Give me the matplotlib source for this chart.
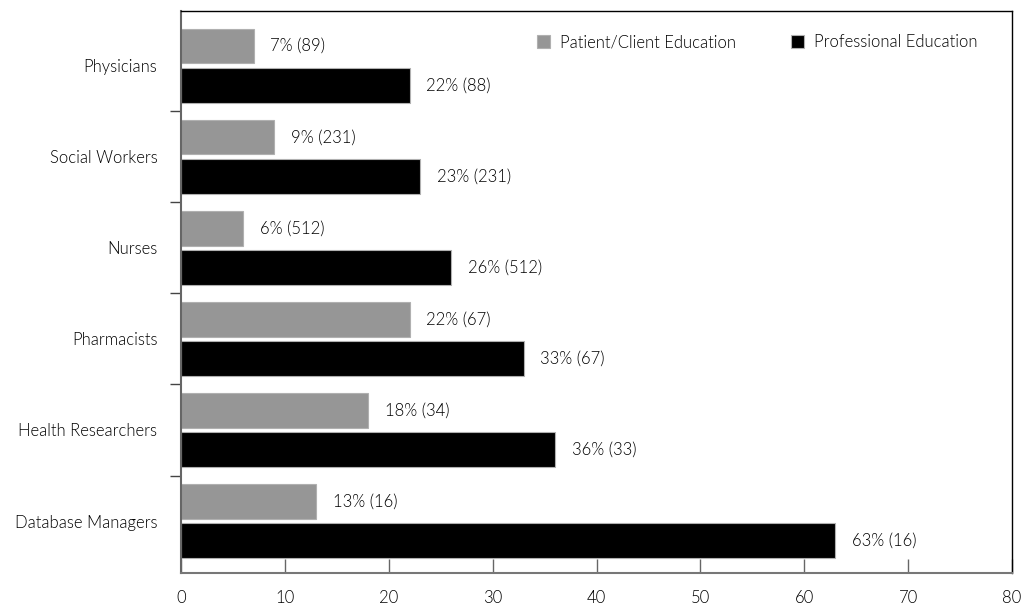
import matplotlib
matplotlib.use("Agg")
import matplotlib.pyplot as plt
import numpy as np

plt.rcParams['font.family'] = ['Lato', 'DejaVu Sans']
plt.rcParams['font.weight'] = 300

categories = ["Physicians", "Social Workers", "Nurses", "Pharmacists",
              "Health Researchers", "Database Managers"]
patient_pct = [7, 9, 6, 22, 18, 13]
patient_n = [89, 231, 512, 67, 34, 16]
professional_pct = [22, 23, 26, 33, 36, 63]
professional_n = [88, 231, 512, 67, 33, 16]
x_ticks = [0, 10, 20, 30, 40, 50, 60, 70, 80]

grey = "#969696"
txt = "black"
fs = 12
fig = plt.figure(figsize=(10.25, 6.07), dpi=100)
ax = fig.add_axes([181 / 1025, 1 - 573 / 607, (1012 - 181) / 1025, (573 - 11) / 607])

y = np.arange(len(categories))
h = 0.38
off = 0.215
ax.barh(y - off, patient_pct, height=h, color=grey, edgecolor="#b0b0b0",
        linewidth=0.8, label="Patient/Client Education")
ax.barh(y + off, professional_pct, height=h, color="black", edgecolor="#b0b0b0",
        linewidth=0.8, label="Professional Education")

for yi, p, n in zip(y, patient_pct, patient_n):
    ax.text(p + 1.6, yi - off, f"{p}% ({n})", va="center", ha="left", fontsize=fs,
            color=txt, fontweight=300)
for yi, p, n in zip(y, professional_pct, professional_n):
    ax.text(p + 1.6, yi + off, f"{p}% ({n})", va="center", ha="left", fontsize=fs,
            color=txt, fontweight=300)

ax.set_xlim(0, 80)
ax.set_ylim(len(categories) - 0.5 + 0.07, -0.6)
ax.set_xticks(x_ticks)
ax.set_xticklabels([str(t) for t in x_ticks], fontsize=fs, fontweight=300)
ax.tick_params(axis="x", direction="in", length=10, width=1, color="#666666",
               pad=12, labelcolor=txt)

ax.set_yticks(y)
ax.set_yticklabels(categories, fontsize=fs, color=txt, fontweight=300)
ax.tick_params(axis="y", which="major", length=0, pad=17)
ax.set_yticks(np.arange(len(categories) - 1) + 0.5, minor=True)
ax.tick_params(axis="y", which="minor", direction="out", length=8, width=1,
               color="#444444")

for s in ["top", "right"]:
    ax.spines[s].set_color("black")
    ax.spines[s].set_linewidth(1)
ax.spines["left"].set_color("#666666")
ax.spines["left"].set_linewidth(1.5)
ax.spines["bottom"].set_color("#777777")
ax.spines["bottom"].set_linewidth(1.5)

leg = ax.legend(loc="upper right", bbox_to_anchor=(0.977, 0.985), ncol=2,
                frameon=False, prop={"size": fs, "weight": 300},
                handlelength=0.8, handleheight=0.8,
                handletextpad=0.6, columnspacing=3.3)
for t in leg.get_texts():
    t.set_color(txt)

fig.savefig("out.png", dpi=100)
